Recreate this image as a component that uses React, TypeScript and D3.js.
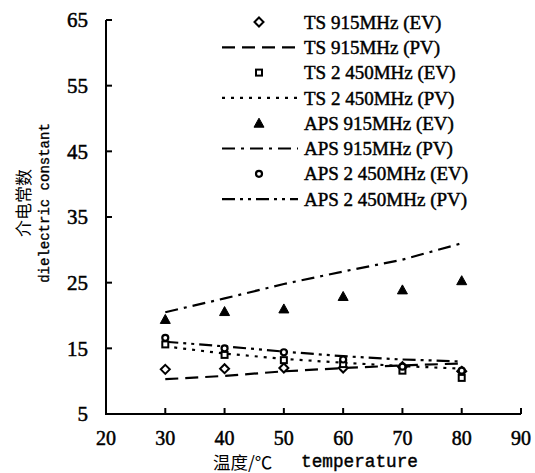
import React from "react";
import * as d3 from "d3";

const temps = [30, 40, 50, 60, 70, 80];
const xTicks = [20, 30, 40, 50, 60, 70, 80, 90];
const yTicks = [5, 15, 25, 35, 45, 55, 65];

const tsEv915 = [11.8, 11.9, 12.0, 12.0, 12.2, 11.5];
const tsPv915 = [10.3, 10.8, 11.5, 12.0, 12.4, 12.7];
const tsEv2450 = [15.6, 14.0, 13.2, 12.6, 11.6, 10.5];
const tsPv2450 = [15.3, 14.2, 13.4, 12.8, 12.3, 11.9];
const apsEv915 = [19.4, 20.6, 21.0, 22.9, 23.9, 25.3];
const apsPv915 = [20.5, 22.6, 24.8, 26.7, 28.5, 31.0];
const apsEv2450 = [16.6, 15.0, 14.4, 13.3, 12.2, 11.6];
const apsPv2450 = [16.0, 15.3, 14.5, 13.8, 13.3, 13.0];

const legendLabels = [
  "TS 915MHz (EV)",
  "TS 915MHz (PV)",
  "TS 2 450MHz (EV)",
  "TS 2 450MHz (PV)",
  "APS 915MHz (EV)",
  "APS 915MHz (PV)",
  "APS 2 450MHz (EV)",
  "APS 2 450MHz (PV)",
];

const W = 535;
const H = 473;
const LEFT = 106;
const RIGHT = 521;
const TOP = 20;
const BOTTOM = 414;

const x = d3.scaleLinear().domain([20, 90]).range([LEFT, RIGHT]);
const y = d3.scaleLinear().domain([5, 65]).range([BOTTOM, TOP]);

const serif = "'Liberation Serif', 'Times New Roman', serif";
const cjk = "'Noto Sans CJK SC', sans-serif";
const mono = "'Liberation Mono', 'DejaVu Sans Mono', monospace";

type MarkerKind = "diamond" | "square" | "triangle" | "circle";

function Marker({ kind, cx, cy }: { kind: MarkerKind; cx: number; cy: number }) {
  if (kind === "diamond") {
    const r = 4.5;
    return (
      <path
        d={`M${cx},${cy - r}L${cx + r},${cy}L${cx},${cy + r}L${cx - r},${cy}Z`}
        fill="#fff"
        stroke="#000"
        strokeWidth={2}
      />
    );
  }
  if (kind === "square") {
    return <rect x={cx - 3} y={cy - 3} width={6} height={6} fill="#fff" stroke="#000" strokeWidth={2} />;
  }
  if (kind === "triangle") {
    const r = 5;
    return (
      <path
        d={`M${cx},${cy - r}L${cx + r},${cy + r * 0.8}L${cx - r},${cy + r * 0.8}Z`}
        fill="#000"
        stroke="#000"
        strokeWidth={1}
      />
    );
  }
  return <circle cx={cx} cy={cy} r={3} fill="#fff" stroke="#000" strokeWidth={2.2} />;
}

const evSeries: { data: number[]; kind: MarkerKind; legend: number }[] = [
  { data: tsEv915, kind: "diamond", legend: 0 },
  { data: tsEv2450, kind: "square", legend: 2 },
  { data: apsEv915, kind: "triangle", legend: 4 },
  { data: apsEv2450, kind: "circle", legend: 6 },
];

const pvSeries: { data: number[]; dash: string; legend: number }[] = [
  { data: tsPv915, dash: "13,7", legend: 1 },
  { data: tsPv2450, dash: "3,6", legend: 3 },
  { data: apsPv915, dash: "13,6,3,6", legend: 5 },
  { data: apsPv2450, dash: "13,5,3,5,3,5", legend: 7 },
];

export default function App() {
  const line = d3
    .line<number>()
    .x((_, i) => x(temps[i]))
    .y((d) => y(d));

  const legendY = (i: number) => 22 + i * 25.3;

  return (
    <svg
      width={W}
      height={H}
      style={{ position: "absolute", left: 0, top: 0, background: "#fff" }}
    >
      <rect x={0} y={0} width={W} height={H} fill="#fff" />
      {/* axes */}
      <line x1={LEFT} y1={TOP} x2={LEFT} y2={BOTTOM + 1} stroke="#000" strokeWidth={2} />
      <line x1={LEFT - 1} y1={BOTTOM} x2={RIGHT} y2={BOTTOM} stroke="#000" strokeWidth={2} />
      {yTicks.map((t) => (
        <g key={"y" + t}>
          <line x1={LEFT} x2={LEFT + 6} y1={y(t)} y2={y(t)} stroke="#000" strokeWidth={2} />
          <text
            x={88}
            y={y(t)}
            dy="0.35em"
            textAnchor="end"
            fontFamily={serif}
            fontSize={21}
            stroke="#000"
            strokeWidth={0.5}
          >
            {t}
          </text>
        </g>
      ))}
      {xTicks.map((t) => (
        <g key={"x" + t}>
          <line x1={x(t)} x2={x(t)} y1={BOTTOM} y2={BOTTOM - 6} stroke="#000" strokeWidth={2} />
          <text
            x={x(t)}
            y={445}
            textAnchor="middle"
            fontFamily={serif}
            fontSize={20}
            stroke="#000"
            strokeWidth={0.5}
          >
            {t}
          </text>
        </g>
      ))}
      {/* axis titles */}
      <text x={213} y={469} fontSize={17.5} fontFamily={cjk}>
        温度/℃
      </text>
      <text
        x={301}
        y={467}
        fontFamily={mono}
        fontSize={17.5}
        stroke="#000"
        strokeWidth={0.4}
        textLength={117}
        lengthAdjust="spacingAndGlyphs"
      >
        temperature
      </text>
      <g transform="translate(24,203) rotate(-90)">
        <text x={0} y={0} dy="0.35em" textAnchor="middle" fontFamily={cjk} fontSize={17}>
          介电常数
        </text>
      </g>
      <g transform="translate(44,203) rotate(-90)">
        <text
          x={0}
          y={0}
          dy="0.35em"
          textAnchor="middle"
          fontFamily={mono}
          fontSize={14}
          stroke="#000"
          strokeWidth={0.35}
        >
          dielectric constant
        </text>
      </g>
      {/* predicted lines */}
      {pvSeries.map((s, i) => (
        <path key={"pv" + i} d={line(s.data) || ""} fill="none" stroke="#000" strokeWidth={2.2} strokeDasharray={s.dash} />
      ))}
      {/* experimental markers */}
      {evSeries.map((s, i) => (
        <g key={"ev" + i}>
          {s.data.map((v, j) => (
            <Marker key={j} kind={s.kind} cx={x(temps[j])} cy={y(v)} />
          ))}
        </g>
      ))}
      {/* legend */}
      {evSeries.map((s, i) => (
        <Marker key={"lm" + i} kind={s.kind} cx={259} cy={legendY(s.legend)} />
      ))}
      {pvSeries.map((s, i) => (
        <line
          key={"ll" + i}
          x1={222}
          x2={298}
          y1={legendY(s.legend)}
          y2={legendY(s.legend)}
          stroke="#000"
          strokeWidth={2.2}
          strokeDasharray={s.dash}
        />
      ))}
      {legendLabels.map((l, i) => (
        <text
          key={"lt" + i}
          x={304}
          y={legendY(i)}
          dy="0.35em"
          fontFamily={serif}
          fontSize={19}
          stroke="#000"
          strokeWidth={0.45}
        >
          {l}
        </text>
      ))}
    </svg>
  );
}
